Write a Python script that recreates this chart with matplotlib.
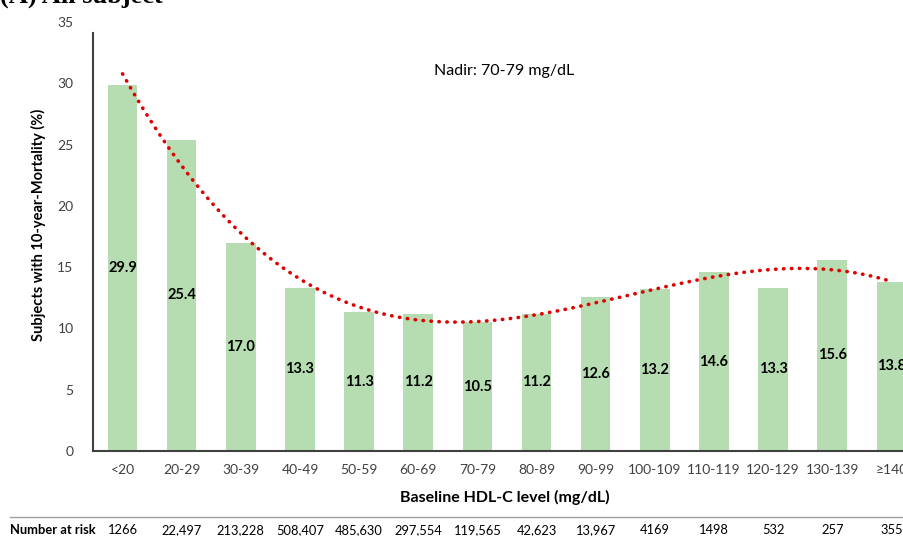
import numpy as np
import matplotlib
matplotlib.use("Agg")
import matplotlib.pyplot as plt

# -------- Data --------
hdl_groups = ["<20", "20-29", "30-39", "40-49", "50-59", "60-69", "70-79",
              "80-89", "90-99", "100-109", "110-119", "120-129", "130-139", "≥140"]
mortality = [29.9, 25.4, 17.0, 13.3, 11.3, 11.2, 10.5, 11.2, 12.6, 13.2, 14.6, 13.3, 15.6, 13.8]
at_risk = ["1266", "22,497", "213,228", "508,407", "485,630", "297,554", "119,565",
           "42,623", "13,967", "4169", "1498", "532", "257", "355"]

plt.rcParams["font.family"] = ["Lato", "DejaVu Sans"]

fig = plt.figure(figsize=(9.04, 5.36), dpi=100)
ax = fig.add_axes([93 / 904, 85 / 536, 828 / 904, 429 / 536])

x = np.arange(len(hdl_groups))
ax.bar(x, mortality, width=0.5, color="#b6ddb1", zorder=1)

for xi, v in zip(x, mortality):
    ax.text(xi, v / 2, f"{v:.1f}", ha="center", va="center",
            fontsize=10.5, fontweight="bold", color="black")

# polynomial trendline (order 3)
coef = np.polyfit(x, mortality, 3)
xs = np.linspace(0, len(x) - 1, 300)
ax.plot(xs, np.polyval(coef, xs), color="#e00000", linewidth=2.6,
        linestyle=(0, (0.1, 2.1)), dash_capstyle="round", zorder=3)

ax.text(6.45, 31, "Nadir: 70-79 mg/dL", ha="center", va="center", fontsize=11.5, color="black")

ax.set_xlim(-0.5, len(x) - 0.5)
ax.set_ylim(0, 35)
ax.set_yticks(range(0, 36, 5))
ax.set_xticks(x)
ax.set_xticklabels(hdl_groups)
ax.tick_params(length=0, labelsize=10, colors="#404040", pad=9)
ax.tick_params(axis="y", pad=14)
for s in ["top", "right"]:
    ax.spines[s].set_visible(False)
ax.spines["left"].set_bounds(0, 34.1)
ax.spines["left"].set_color("#404040")
ax.spines["left"].set_linewidth(1.5)
ax.spines["bottom"].set_color("#404040")
ax.spines["bottom"].set_linewidth(1.5)

fig.text(38 / 904, 1 - 225 / 536, "Subjects with 10-year-Mortality (%)", rotation=90,
         ha="center", va="center", fontsize=10.5, fontweight="bold")
fig.text(505 / 904, 1 - 497 / 536, "Baseline HDL-C level (mg/dL)", ha="center", va="center",
         fontsize=11.5, fontweight="bold")

# number-at-risk table
fig.add_artist(plt.Line2D([10 / 904, 1], [1 - 517 / 536] * 2, color="#a0a0a0", linewidth=1))
fig.text(10 / 904, 1 - 530 / 536, "Number at risk", ha="left", va="center",
         fontsize=9.3, fontweight="bold")
for xi, n in zip(x, at_risk):
    xd = ax.transData.transform((xi, 0))[0] / fig.bbox.width
    fig.text(xd, 1 - 530 / 536, n, ha="center", va="center", fontsize=9.3)

fig.text(0.0, 1 - 3 / 536, "(A) All subject", ha="left", va="baseline",
         fontsize=19, fontweight="bold", family="Liberation Serif")

fig.savefig("out.png", dpi=100)
